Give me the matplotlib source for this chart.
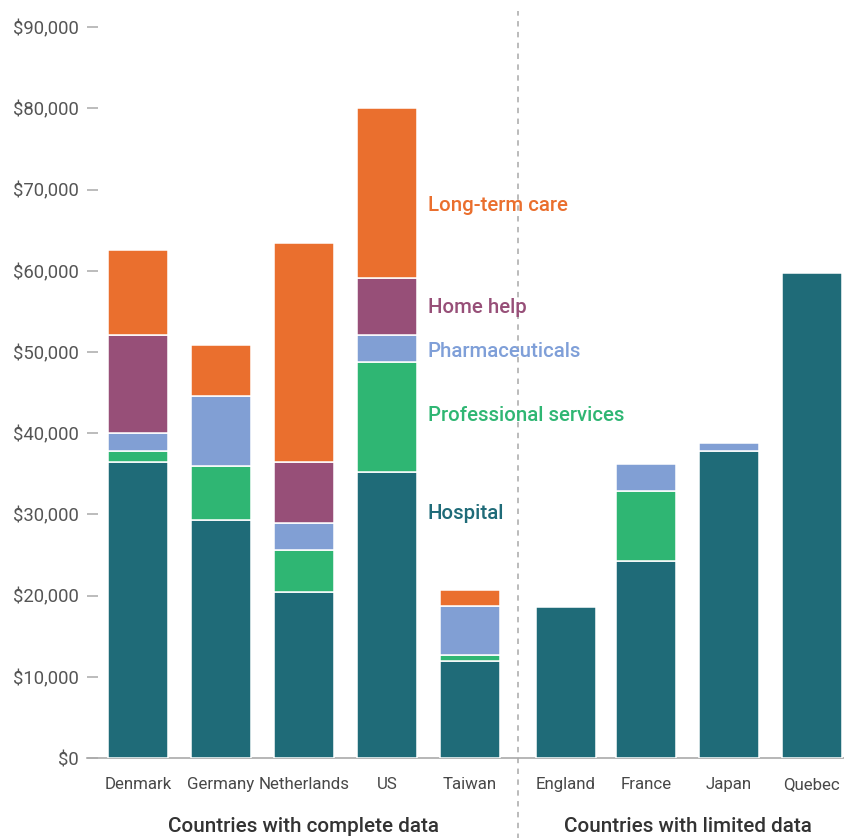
import matplotlib
matplotlib.use("Agg")
import matplotlib.pyplot as plt
import numpy as np
from matplotlib.transforms import blended_transform_factory

countries = ["Denmark", "Germany", "Netherlands", "US", "Taiwan",
             "England", "France", "Japan", "Quebec"]
hospital = [36450, 29310, 20440, 35220, 11950, 18600, 24260, 37800, 59730]
professional = [1350, 6650, 5180, 13550, 730, 0, 8620, 0, 0]
pharmaceuticals = [2220, 8620, 3320, 3320, 6040, 0, 3330, 990, 0]
home_help = [12080, 0, 7510, 7020, 0, 0, 0, 0, 0]
long_term_care = [10460, 6280, 26970, 20940, 1970, 0, 0, 0, 0]

series_names = ["Hospital", "Professional services", "Pharmaceuticals",
                "Home help", "Long-term care"]
series_values = [hospital, professional, pharmaceuticals, home_help, long_term_care]
colors = ["#1f6b78", "#2fb673", "#819fd4", "#974f78", "#ea6f2e"]
label_colors = ["#1f6b78", "#2fb673", "#7f9fd8", "#974f78", "#ea6f2e"]
label_y = [30170, 42240, 50120, 55540, 68100]

group_names = ["Countries with complete data", "Countries with limited data"]
yticks = list(range(0, 90001, 10000))

plt.rcParams["font.family"] = ["Roboto", "DejaVu Sans"]

fig = plt.figure(figsize=(8.44, 8.38), dpi=100)
ax = fig.add_axes([87/844, 1-758/838, 1-87/844, (758-11)/838])

xpos = np.array([0, 1, 2, 3, 4, 5.157, 6.12, 7.12, 8.12])
width = 0.725
bottom = np.zeros(len(countries))
for name, vals, col in zip(series_names, series_values, colors):
    vals = np.array(vals, dtype=float)
    m = vals > 0
    ax.bar(xpos[m], vals[m], width=width, bottom=bottom[m], color=col,
           edgecolor="white", linewidth=1.1, zorder=3)
    bottom += vals

for name, y, col in zip(series_names, label_y, label_colors):
    ax.text(3.494, y, name, color=col, fontsize=14.7, fontweight="medium",
            va="center", ha="left", zorder=4)

ax.set_xlim(-0.614, 8.506)
ax.set_ylim(0, 92000)
ax.set_yticks(yticks)
ax.set_yticklabels([r"\$" + f"{v:,}" for v in yticks])
ax.set_xticks(xpos)
ax.set_xticklabels(countries)

for s in ["top", "right", "left"]:
    ax.spines[s].set_visible(False)
ax.spines["bottom"].set_color("#aaaaaa")
ax.spines["bottom"].set_linewidth(1.2)
ax.tick_params(axis="y", direction="in", length=8, width=1.2, color="#b0b0b0",
               labelsize=13.3, labelcolor="#555555", pad=6)
ax.tick_params(axis="x", length=0, labelsize=12.2, labelcolor="#484848", pad=14)

trans = blended_transform_factory(ax.transData, ax.transAxes)
ax.plot([4.578, 4.578], [-0.12, 1.0], transform=trans, clip_on=False,
        color="#b5b5b5", linestyle=(0, (3, 3)), linewidth=1.3, zorder=1)

ax.text(2, -0.092, group_names[0], transform=trans, ha="center", va="center",
        fontsize=14.9, fontweight="medium", color="#333333")
ax.text(6.62, -0.092, group_names[1], transform=trans, ha="center", va="center",
        fontsize=14.9, fontweight="medium", color="#333333")

fig.savefig("out.png", dpi=100)
